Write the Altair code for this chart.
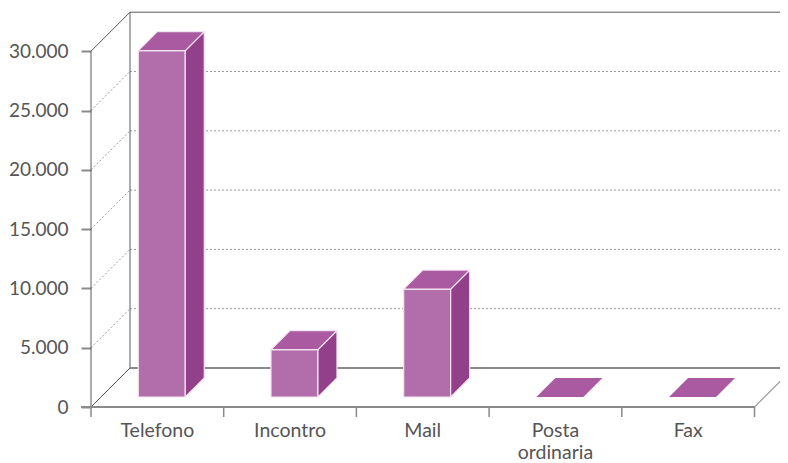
import altair as alt
import pandas as pd

# ---- data ----
categories = ["Telefono", "Incontro", "Mail", "Posta\nordinaria", "Fax"]
values = [29200, 4000, 9100, 0, 0]
y_ticks = [0, 5000, 10000, 15000, 20000, 25000, 30000]

# ---- layout / style constants ----
W, H = 689, 399            # plot area in px
PX_PER_CAT = 132.7         # px per category on the front plane
PX_PER_VAL = 355.8 / 30000 # px per unit value
XMAX = W / PX_PER_CAT
YMAX = H / PX_PER_VAL
BACK = 39                  # depth of the box, px
BAR_D0, BAR_D1 = 10, 19    # bar depth start / depth, px
BAR_HALF = 0.177           # half bar width in category units
BAR_SHIFT = 0.458          # bar centre inside category

FRONT_C, TOP_C, SIDE_C = "#B26EAA", "#A95AA0", "#93408A"
EDGE_C = "#F4E4F1"
FRAME_C = "#5a5a5a"
GRID_C = "#9a9a9a"
FONT = "Lato"
TEXT_C = "#555555"


def dx(p):
    return p / PX_PER_CAT


def dy(p):
    return p / PX_PER_VAL


n = len(categories)
xs = alt.Scale(domain=[0, XMAX], nice=False, zero=False)
ys = alt.Scale(domain=[0, YMAX], nice=False, zero=False)

Y_AXIS = alt.Axis(
    values=y_ticks, domain=False, grid=False, title=None,
    tickSize=10, tickColor="#8a8a8a", tickWidth=2,
    labelFont=FONT, labelFontSize=19, labelColor=TEXT_C, labelPadding=13,
    labelExpr="replace(format(datum.value, ','), ',', '.')")

# y axis (ticks + labels) carried by an invisible first layer
yaxis = alt.Chart(pd.DataFrame({"y": y_ticks})).mark_point(opacity=0).encode(
    y=alt.Y("y:Q", scale=ys, axis=Y_AXIS),
    x=alt.X("x0:Q", scale=xs, axis=None)).transform_calculate(x0="0")

# ---- frame ----
frame_rows = [
    dict(x=0, x2=0, y=0, y2=30000),
    dict(x=dx(BACK), x2=dx(BACK), y=dy(BACK), y2=30000 + dy(BACK)),
    dict(x=dx(BACK), x2=XMAX, y=30000 + dy(BACK), y2=30000 + dy(BACK)),
    dict(x=0, x2=dx(BACK), y=30000, y2=30000 + dy(BACK)),
    dict(x=0, x2=dx(BACK), y=0, y2=dy(BACK)),
    dict(x=n, x2=n + dx(BACK), y=0, y2=dy(BACK)),
]
frame = alt.Chart(pd.DataFrame(frame_rows)).mark_rule(
    color=FRAME_C, strokeWidth=1
).encode(x=alt.X("x:Q", scale=xs, axis=None), x2="x2:Q",
         y=alt.Y("y:Q", scale=ys), y2="y2:Q")

floor_rows = [
    dict(x=-dx(10), x2=n, y=0),
    dict(x=dx(BACK), x2=XMAX, y=dy(BACK)),
]
floor = alt.Chart(pd.DataFrame(floor_rows)).mark_rule(
    color="#8a8a8a", strokeWidth=2
).encode(x=alt.X("x:Q", scale=xs, axis=None), x2="x2:Q",
         y=alt.Y("y:Q", scale=ys))

grid_vals = [v for v in y_ticks if 0 < v < 30000]
back_grid = alt.Chart(pd.DataFrame({
    "x": [dx(BACK)] * len(grid_vals), "x2": [XMAX] * len(grid_vals),
    "y": [v + dy(BACK) for v in grid_vals]})).mark_rule(
    color=GRID_C, strokeWidth=1, strokeDash=[2, 2]
).encode(x=alt.X("x:Q", scale=xs, axis=None), x2="x2:Q",
         y=alt.Y("y:Q", scale=ys))
side_grid = alt.Chart(pd.DataFrame({
    "x": [0] * len(grid_vals), "x2": [dx(BACK)] * len(grid_vals),
    "y": grid_vals, "y2": [v + dy(BACK) for v in grid_vals]})).mark_rule(
    color=GRID_C, strokeWidth=1, strokeDash=[2, 2]
).encode(x=alt.X("x:Q", scale=xs, axis=None), x2="x2:Q",
         y=alt.Y("y:Q", scale=ys), y2="y2:Q")

xticks = alt.Chart(pd.DataFrame({"x": list(range(n + 1))})).mark_rule(
    color="#8a8a8a", strokeWidth=1.5
).encode(x=alt.X("x:Q", scale=xs, axis=None),
         y=alt.value(H), y2=alt.value(H + 10))

# ---- bars ----
front_rows, top_rows, side_rows = [], [], []
for i, (c, v) in enumerate(zip(categories, values)):
    cl = i + BAR_SHIFT - BAR_HALF
    cr = i + BAR_SHIFT + BAR_HALF
    if v > 0:
        front_rows.append(dict(cat=c, x=cl + dx(BAR_D0), x2=cr + dx(BAR_D0),
                               y=dy(BAR_D0), y2=v + dy(BAR_D0)))
        side_rows.append(dict(cat=c, x=cr + dx(BAR_D0), y=v + dy(BAR_D0), y2=dy(BAR_D0)))
        side_rows.append(dict(cat=c, x=cr + dx(BAR_D0 + BAR_D1),
                              y=v + dy(BAR_D0 + BAR_D1), y2=dy(BAR_D0 + BAR_D1)))
    top_rows.append(dict(cat=c, flat=(v == 0), y=v + dy(BAR_D0),
                         x=cl + dx(BAR_D0), x2=cr + dx(BAR_D0)))
    top_rows.append(dict(cat=c, flat=(v == 0), y=v + dy(BAR_D0 + BAR_D1),
                         x=cl + dx(BAR_D0 + BAR_D1), x2=cr + dx(BAR_D0 + BAR_D1)))

front = alt.Chart(pd.DataFrame(front_rows)).mark_rect(
    color=FRONT_C, stroke=EDGE_C, strokeWidth=1.2
).encode(x=alt.X("x:Q", scale=xs, axis=None), x2="x2:Q",
         y=alt.Y("y:Q", scale=ys), y2="y2:Q")

side = alt.Chart(pd.DataFrame(side_rows)).mark_area(
    orient="vertical", color=SIDE_C, stroke=EDGE_C, strokeWidth=1.2
).encode(x=alt.X("x:Q", scale=xs, axis=None),
         y=alt.Y("y:Q", scale=ys), y2="y2:Q", detail="cat:N")

top_df = pd.DataFrame(top_rows)
top_tall = alt.Chart(top_df[~top_df["flat"]]).mark_area(
    orient="horizontal", color=TOP_C, stroke=EDGE_C, strokeWidth=1.2
).encode(y=alt.Y("y:Q", scale=ys),
         x=alt.X("x:Q", scale=xs, axis=None), x2="x2:Q", detail="cat:N")
top_flat = alt.Chart(top_df[top_df["flat"]]).mark_area(
    orient="horizontal", color=TOP_C
).encode(y=alt.Y("y:Q", scale=ys),
         x=alt.X("x:Q", scale=xs, axis=None), x2="x2:Q", detail="cat:N")

labels = alt.Chart(pd.DataFrame({
    "x": [i + 0.5 for i in range(n)], "label": categories})).mark_text(
    font=FONT, fontSize=19.5, color=TEXT_C, baseline="top", align="center",
    lineBreak="\n", lineHeight=22
).encode(x=alt.X("x:Q", scale=xs, axis=None), y=alt.value(H + 15),
         text="label:N")

chart = alt.layer(
    yaxis, back_grid, side_grid, frame, floor, xticks,
    front, side, top_tall, top_flat, labels
).properties(
    width=W, height=H,
    autosize=alt.AutoSizeParams(type="none"),
    padding={"left": 83, "top": 0, "right": 0, "bottom": 56},
).configure_view(stroke=None)

chart.save("out.html", embed_options={"renderer": "svg", "actions": False})
